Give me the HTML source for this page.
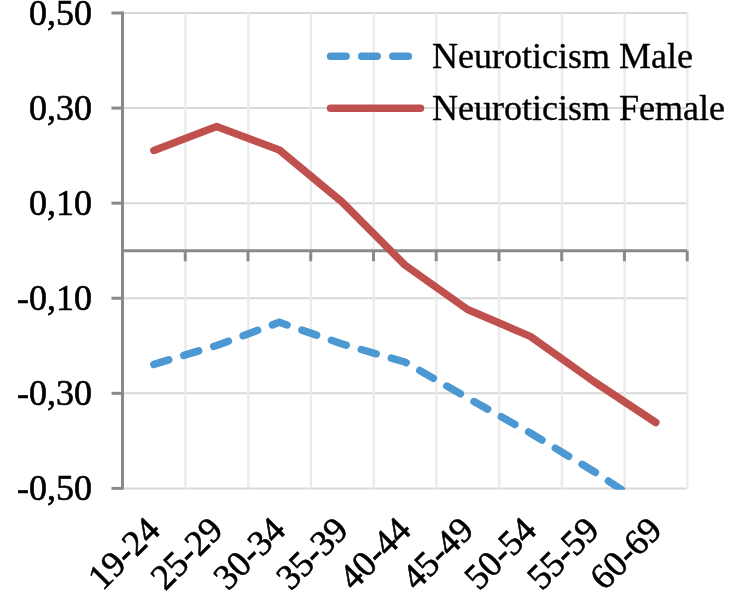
<!DOCTYPE html><html><head><meta charset="utf-8"><style>html,body{margin:0;padding:0;background:#fff;width:734px;height:615px;overflow:hidden}svg{display:block;will-change:transform}text{font-family:"Liberation Serif",serif;fill:#000;stroke:#000;stroke-width:0.6px}</style></head><body>
<svg width="734" height="615" viewBox="0 0 734 615">
<rect width="734" height="615" fill="#fff"/>
<line x1="122.50" y1="13.00" x2="687.20" y2="13.00" stroke="#d9d9d9" stroke-width="2"/>
<line x1="122.50" y1="108.08" x2="687.20" y2="108.08" stroke="#d9d9d9" stroke-width="2"/>
<line x1="122.50" y1="203.16" x2="687.20" y2="203.16" stroke="#d9d9d9" stroke-width="2"/>
<line x1="122.50" y1="298.24" x2="687.20" y2="298.24" stroke="#d9d9d9" stroke-width="2"/>
<line x1="122.50" y1="393.32" x2="687.20" y2="393.32" stroke="#d9d9d9" stroke-width="2"/>
<line x1="122.50" y1="488.40" x2="687.20" y2="488.40" stroke="#d9d9d9" stroke-width="2"/>
<line x1="185.44" y1="13.00" x2="185.44" y2="488.40" stroke="#ebebeb" stroke-width="2.4"/>
<line x1="248.19" y1="13.00" x2="248.19" y2="488.40" stroke="#ebebeb" stroke-width="2.4"/>
<line x1="310.93" y1="13.00" x2="310.93" y2="488.40" stroke="#ebebeb" stroke-width="2.4"/>
<line x1="373.68" y1="13.00" x2="373.68" y2="488.40" stroke="#ebebeb" stroke-width="2.4"/>
<line x1="436.42" y1="13.00" x2="436.42" y2="488.40" stroke="#ebebeb" stroke-width="2.4"/>
<line x1="499.17" y1="13.00" x2="499.17" y2="488.40" stroke="#ebebeb" stroke-width="2.4"/>
<line x1="561.91" y1="13.00" x2="561.91" y2="488.40" stroke="#ebebeb" stroke-width="2.4"/>
<line x1="624.66" y1="13.00" x2="624.66" y2="488.40" stroke="#ebebeb" stroke-width="2.4"/>
<line x1="687.40" y1="13.00" x2="687.40" y2="488.40" stroke="#ebebeb" stroke-width="2.4"/>
<line x1="122.50" y1="11.50" x2="122.50" y2="489.40" stroke="#8a8a8a" stroke-width="3"/>
<line x1="111.5" y1="13.00" x2="122.50" y2="13.00" stroke="#8a8a8a" stroke-width="3"/>
<line x1="111.5" y1="108.08" x2="122.50" y2="108.08" stroke="#8a8a8a" stroke-width="3"/>
<line x1="111.5" y1="203.16" x2="122.50" y2="203.16" stroke="#8a8a8a" stroke-width="3"/>
<line x1="111.5" y1="298.24" x2="122.50" y2="298.24" stroke="#8a8a8a" stroke-width="3"/>
<line x1="111.5" y1="393.32" x2="122.50" y2="393.32" stroke="#8a8a8a" stroke-width="3"/>
<line x1="111.5" y1="488.40" x2="122.50" y2="488.40" stroke="#8a8a8a" stroke-width="3"/>
<line x1="122.50" y1="250.70" x2="687.20" y2="250.70" stroke="#8a8a8a" stroke-width="3"/>
<line x1="185.24" y1="250.70" x2="185.24" y2="261.20" stroke="#8a8a8a" stroke-width="3"/>
<line x1="247.99" y1="250.70" x2="247.99" y2="261.20" stroke="#8a8a8a" stroke-width="3"/>
<line x1="310.73" y1="250.70" x2="310.73" y2="261.20" stroke="#8a8a8a" stroke-width="3"/>
<line x1="373.48" y1="250.70" x2="373.48" y2="261.20" stroke="#8a8a8a" stroke-width="3"/>
<line x1="436.22" y1="250.70" x2="436.22" y2="261.20" stroke="#8a8a8a" stroke-width="3"/>
<line x1="498.97" y1="250.70" x2="498.97" y2="261.20" stroke="#8a8a8a" stroke-width="3"/>
<line x1="561.71" y1="250.70" x2="561.71" y2="261.20" stroke="#8a8a8a" stroke-width="3"/>
<line x1="624.46" y1="250.70" x2="624.46" y2="261.20" stroke="#8a8a8a" stroke-width="3"/>
<line x1="687.20" y1="250.70" x2="687.20" y2="261.20" stroke="#8a8a8a" stroke-width="3"/>
<text x="92" y="25.00" font-size="36" text-anchor="end">0,50</text>
<text x="92" y="120.08" font-size="36" text-anchor="end">0,30</text>
<text x="92" y="215.16" font-size="36" text-anchor="end">0,10</text>
<text x="92" y="310.24" font-size="36" text-anchor="end">-0,10</text>
<text x="92" y="405.32" font-size="36" text-anchor="end">-0,30</text>
<text x="92" y="500.40" font-size="36" text-anchor="end">-0,50</text>
<defs><clipPath id="pc"><rect x="112.50" y="3.00" width="584.70" height="486.70"/></clipPath></defs>
<polyline points="153.87,150.40 216.62,126.40 279.36,150.00 342.11,202.00 404.85,265.00 467.59,309.50 530.34,336.40 593.08,381.00 655.83,422.50" fill="none" stroke="#c0504d" stroke-width="7.5" stroke-linecap="round" stroke-linejoin="round"/>
<g clip-path="url(#pc)"><polyline points="153.87,364.40 216.62,345.50 279.36,322.30 342.11,344.00 404.85,362.00 467.59,398.00 530.34,433.00 593.08,471.00 655.83,512.00" fill="none" stroke="#4b98d3" stroke-width="7.5" stroke-dasharray="15.55 15.7" stroke-linecap="round" stroke-linejoin="round"/></g>
<line x1="330.6" y1="56.2" x2="408.5" y2="56.2" stroke="#4b98d3" stroke-width="7.5" stroke-dasharray="15.5 15.6" stroke-linecap="round"/>
<line x1="330.6" y1="108.3" x2="420.5" y2="108.3" stroke="#c0504d" stroke-width="7.5" stroke-linecap="round"/>
<text x="432" y="67.5" font-size="36" style="stroke-width:0.35px">Neuroticism Male</text>
<text x="432" y="119.5" font-size="36" style="stroke-width:0.35px">Neuroticism Female</text>
<text x="161.87" y="532.00" font-size="36" text-anchor="end" transform="rotate(-45 161.87 532.00)">19-24</text>
<text x="224.62" y="532.00" font-size="36" text-anchor="end" transform="rotate(-45 224.62 532.00)">25-29</text>
<text x="287.36" y="532.00" font-size="36" text-anchor="end" transform="rotate(-45 287.36 532.00)">30-34</text>
<text x="350.11" y="532.00" font-size="36" text-anchor="end" transform="rotate(-45 350.11 532.00)">35-39</text>
<text x="412.85" y="532.00" font-size="36" text-anchor="end" transform="rotate(-45 412.85 532.00)">40-44</text>
<text x="475.59" y="532.00" font-size="36" text-anchor="end" transform="rotate(-45 475.59 532.00)">45-49</text>
<text x="538.34" y="532.00" font-size="36" text-anchor="end" transform="rotate(-45 538.34 532.00)">50-54</text>
<text x="601.08" y="532.00" font-size="36" text-anchor="end" transform="rotate(-45 601.08 532.00)">55-59</text>
<text x="663.83" y="532.00" font-size="36" text-anchor="end" transform="rotate(-45 663.83 532.00)">60-69</text>
</svg></body></html>
